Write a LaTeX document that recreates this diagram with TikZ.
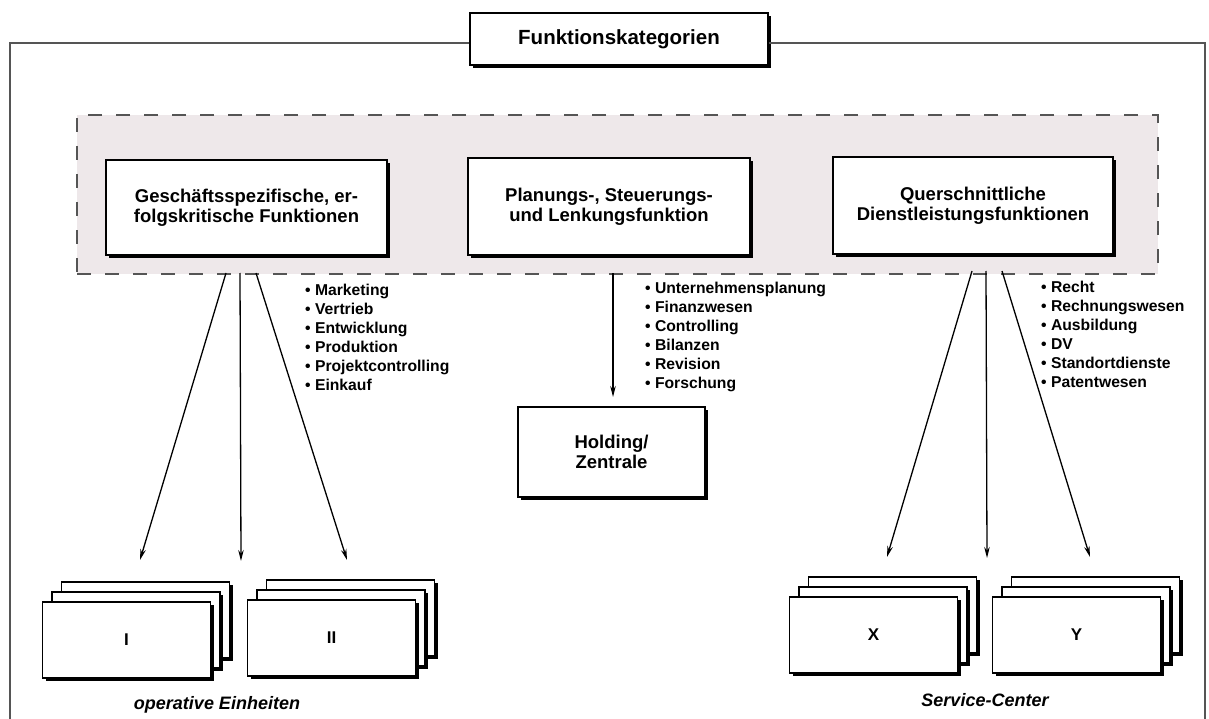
\documentclass[tikz,border=0pt]{standalone}
\usepackage{fontspec}
\setmainfont{Liberation Sans}
\usetikzlibrary{shadows,arrows.meta}
\definecolor{panelfill}{RGB}{238,232,234}
\definecolor{framegray}{RGB}{85,85,85}
\begin{document}
\begin{tikzpicture}[x=1pt,y=-1pt,
  shadowed/.style={draw=black, line width=1.2pt, fill=white,
    drop shadow={shadow xshift=3pt,shadow yshift=-3pt,fill=black,opacity=1}},
  catbox/.style={shadowed, inner sep=0pt, align=center,
    font=\bfseries\fontsize{18.5}{20}\selectfont},
  card/.style={shadowed, inner sep=0pt, minimum width=168pt, minimum height=76pt,
    font=\bfseries\fontsize{17}{19}\selectfont},
  panel/.style={draw=framegray, line width=1.4pt, dash pattern=on 14pt off 14pt,
    fill=panelfill, inner sep=0pt},
  frame/.style={draw=framegray, line width=1.2pt},
  items/.style={inner sep=0pt, align=left, anchor=north west,
    font=\bfseries\fontsize{15.7}{19}\selectfont},
  caption/.style={inner sep=0pt, font=\bfseries\itshape\fontsize{18}{20}\selectfont},
  flow/.style={line width=1.3pt, -{Stealth[length=11pt,width=5.5pt]}}
]
\useasboundingbox (0,0) rectangle (1209,719);

% title and outer frame
\node[catbox, minimum width=298pt, minimum height=52pt, font=\bfseries\fontsize{20.5}{22}\selectfont]
  (title) at (619,39) {Funktionskategorien};
\coordinate (ftop) at (10,43);
\coordinate (fleft) at (10,719);
\coordinate (fright) at (1205,43);
\coordinate (frightb) at (1205,719);
\draw[frame] (title.west |- ftop) -- (ftop) -- (fleft);
\draw[frame] (title.east |- fright) -- (fright) -- (frightb);

% shaded dashed panel with the three categories
\node[panel, minimum width=1081pt, minimum height=159pt] (panel) at (617.5,194.5) {};
\node[catbox, minimum width=281pt, minimum height=95pt] (geschaeft) at (246.5,207.5)
  {Geschäftsspezifische, er-\\folgskritische Funktionen};
\node[catbox, minimum width=282pt, minimum height=97pt] (planung) at (609,206.5)
  {Planungs-, Steuerungs-\\und Lenkungsfunktion};
\node[catbox, minimum width=280pt, minimum height=97pt] (quer) at (973,205.5)
  {Querschnittliche\\Dienstleistungsfunktionen};

% function lists
\node[items] (list1) at (305,284) {• Marketing\\• Vertrieb\\• Entwicklung\\• Produktion\\• Projektcontrolling\\• Einkauf};
\node[items] (list2) at (645,282) {• Unternehmensplanung\\• Finanzwesen\\• Controlling\\• Bilanzen\\• Revision\\• Forschung};
\node[items] (list3) at (1041,281) {• Recht\\• Rechnungswesen\\• Ausbildung\\• DV\\• Standortdienste\\• Patentwesen};

% holding
\node[catbox, minimum width=187pt, minimum height=90pt] (holding) at (611.5,452)
  {Holding/\\Zentrale};

% stacked unit cards (back to front)
\node[card] (I3) at (145.5,620) {};
\node[card] (I2) at (136,630) {};
\node[card] (I1) at (126.5,640) {I};
\node[card] (II3) at (350.5,618) {};
\node[card] (II2) at (341,628) {};
\node[card] (II1) at (331.5,638) {II};
\node[card] (X3) at (892.5,615) {};
\node[card] (X2) at (883,625) {};
\node[card] (X1) at (873.5,635) {X};
\node[card] (Y3) at (1095.5,615) {};
\node[card] (Y2) at (1086,625) {};
\node[card] (Y1) at (1076.5,635) {Y};

\node[caption] (opcap) at (217,705) {operative Einheiten};
\node[caption] (sccap) at (985,700) {Service-Center};

% connectors
\coordinate (g1) at (226,273);
\coordinate (g2) at (240,273);
\coordinate (g3) at (256,273);
\coordinate (g1e) at (140,560);
\coordinate (g2e) at (241,561);
\coordinate (g3e) at (347,560);
\draw[flow] (g1) -- (g1e);
\draw[flow] (g2) -- (g2e);
\draw[flow] (g3) -- (g3e);

\coordinate (p1) at (613,273);
\coordinate (p1e) at (613,397);
\draw[flow] (p1) -- (p1e);

\coordinate (q1) at (972,271);
\coordinate (q2) at (986,271);
\coordinate (q3) at (1002,271);
\coordinate (q1e) at (887,557);
\coordinate (q2e) at (987,558);
\coordinate (q3e) at (1090,557);
\draw[flow] (q1) -- (q1e);
\draw[flow] (q2) -- (q2e);
\draw[flow] (q3) -- (q3e);
\end{tikzpicture}
\end{document}
